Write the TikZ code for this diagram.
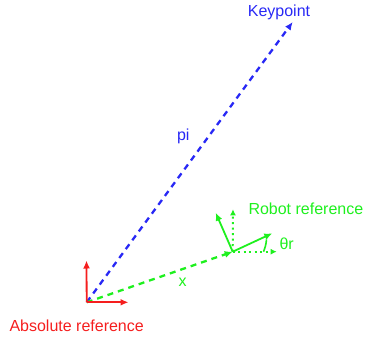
\documentclass[tikz,border=0pt]{standalone}
\usepackage{fontspec}
\setmainfont{Liberation Sans}
\usetikzlibrary{arrows.meta}
\definecolor{kblue}{RGB}{40,40,245}
\definecolor{kgreen}{RGB}{30,240,30}
\definecolor{kred}{RGB}{245,30,30}
\tikzset{
  tip/.style={-{Latex[length=8pt,width=7pt]}},
  smalltip/.style={-{Latex[length=6pt,width=6pt]}},
  dashline/.style={line width=2.3pt, dash pattern=on 6pt off 5pt},
  dotline/.style={line width=2pt, dash pattern=on 2pt off 3.5pt},
  solidline/.style={line width=1.8pt},
  lbl/.style={font=\fontsize{16}{18}\selectfont, inner sep=0pt}
}
\begin{document}
\begin{tikzpicture}[x=1pt,y=-1pt]
\useasboundingbox (0,0) rectangle (365,341);
% coordinates
\coordinate (O) at (86.7,302.3);
\coordinate (Oy) at (86.5,260.5);
\coordinate (Ox) at (128.5,302.3);
\coordinate (K) at (292.7,22);
\coordinate (R) at (232.7,251.7);
\coordinate (Rx) at (272.3,233.3);
\coordinate (Ry) at (215.7,212.7);
\coordinate (Rvy) at (233,209.3);
\coordinate (Rvx) at (276.7,251.7);
\coordinate (A1) at (266.5,239.5);
\coordinate (A2) at (263.5,251.7);
% lines
\draw[kblue, dashline, tip] (O) -- (K);
\draw[kgreen, dashline, tip] (O) -- (R);
\draw[kred, solidline, tip] (O) -- (Oy);
\draw[kred, solidline, tip] (O) -- (Ox);
\draw[kgreen, solidline, tip] (R) -- (Rx);
\draw[kgreen, solidline, tip] (R) -- (Ry);
\draw[kgreen, dotline, smalltip] (R) -- (Rvy);
\draw[kgreen, dotline, smalltip] (R) -- (Rvx);
\draw[kgreen, line width=1.6pt] (A1) to[bend left=8] (A2);
% labels
\node[lbl, text=kblue] (kp) at (279,12.7) {Keypoint};
\node[lbl, text=kblue] (pi) at (183.3,136) {pi};
\node[lbl, text=kgreen] (xl) at (182.7,282.3) {x};
\node[lbl, text=kgreen, anchor=west] (rr) at (248.3,208.3) {Robot reference};
\node[lbl, text=kgreen] (th) at (286.7,243.3) {θr};
\node[lbl, text=kred, anchor=west] (ar) at (9.3,325.7) {Absolute reference};
\end{tikzpicture}
\end{document}
